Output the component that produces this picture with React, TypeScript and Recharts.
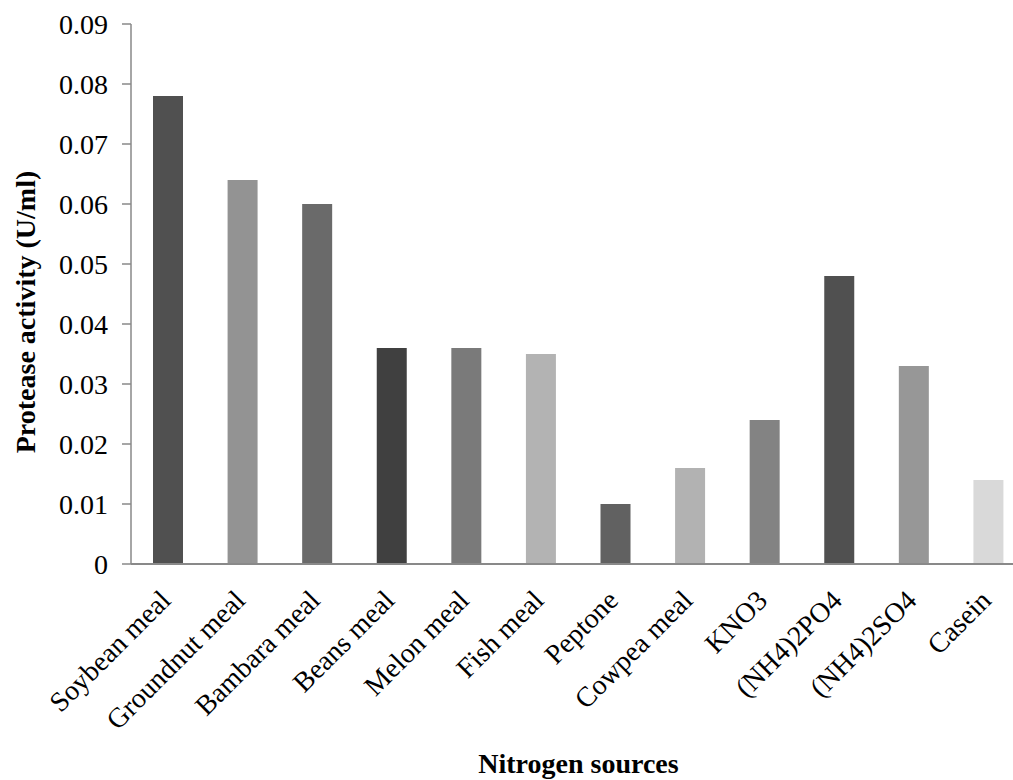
import React from 'react';
import { BarChart, Bar, XAxis, YAxis, Cell, Label } from 'recharts';

const sources = [
  'Soybean meal',
  'Groundnut meal',
  'Bambara meal',
  'Beans meal',
  'Melon meal',
  'Fish meal',
  'Peptone',
  'Cowpea meal',
  'KNO3',
  '(NH4)2PO4',
  '(NH4)2SO4',
  'Casein',
];

const activity = [0.078, 0.064, 0.06, 0.036, 0.036, 0.035, 0.01, 0.016, 0.024, 0.048, 0.033, 0.014];

const yTicks = [0, 0.01, 0.02, 0.03, 0.04, 0.05, 0.06, 0.07, 0.08, 0.09];

const barColors = [
  '#505050', '#939393', '#6a6a6a', '#404040', '#7a7a7a', '#b3b3b3',
  '#616161', '#b2b2b2', '#838383', '#505050', '#979797', '#d9d9d9',
];

const data = sources.map((name, i) => ({ name, value: activity[i] }));

const font = '"Liberation Serif", "Times New Roman", serif';
const axisColor = '#898989';

const SlantTick = (props: any) => {
  const { x, y, payload } = props;
  return (
    <g transform={`translate(${x + 4},${y + 38})`}>
      <text textAnchor="end" transform="rotate(-45)" fontSize={28} fontFamily={font} fill="#000">
        {payload.value}
      </text>
    </g>
  );
};

const App: React.FC = () => {
  return (
    <div
      style={{
        position: 'absolute',
        left: 0,
        top: 0,
        width: 1013,
        height: 780,
        overflow: 'hidden',
        background: '#fff',
      }}
    >
      <BarChart
        width={1040}
        height={780}
        data={data}
        margin={{ top: 24, right: 14, left: 0, bottom: 0 }}
      >
        <XAxis
          dataKey="name"
          interval={0}
          tickLine={false}
          tickSize={0}
          tickMargin={0}
          height={216}
          axisLine={{ stroke: axisColor, strokeWidth: 2 }}
          tick={<SlantTick />}
        >
          <Label
            value="Nitrogen sources"
            position="insideBottom"
            offset={7}
            style={{ fontFamily: font, fontSize: 28, fontWeight: 'bold', fill: '#000' }}
          />
        </XAxis>
        <YAxis
          width={131}
          domain={[0, 0.09]}
          ticks={yTicks}
          interval={0}
          tickFormatter={(v: number) => (v === 0 ? '0' : v.toFixed(2))}
          tickSize={9}
          tickMargin={14}
          axisLine={{ stroke: axisColor, strokeWidth: 1.5 }}
          tickLine={{ stroke: axisColor, strokeWidth: 1.5 }}
          tick={{ fill: '#000', fontSize: 28, fontFamily: font }}
        >
          <Label
            value="Protease activity (U/ml)"
            angle={-90}
            position="insideLeft"
            offset={25}
            dy={18}
            style={{ textAnchor: 'middle', fontFamily: font, fontSize: 28, fontWeight: 'bold', fill: '#000' }}
          />
        </YAxis>
        <Bar dataKey="value" barSize={30} isAnimationActive={false}>
          {data.map((d, i) => (
            <Cell key={d.name} fill={barColors[i]} />
          ))}
        </Bar>
      </BarChart>
    </div>
  );
};

export default App;
